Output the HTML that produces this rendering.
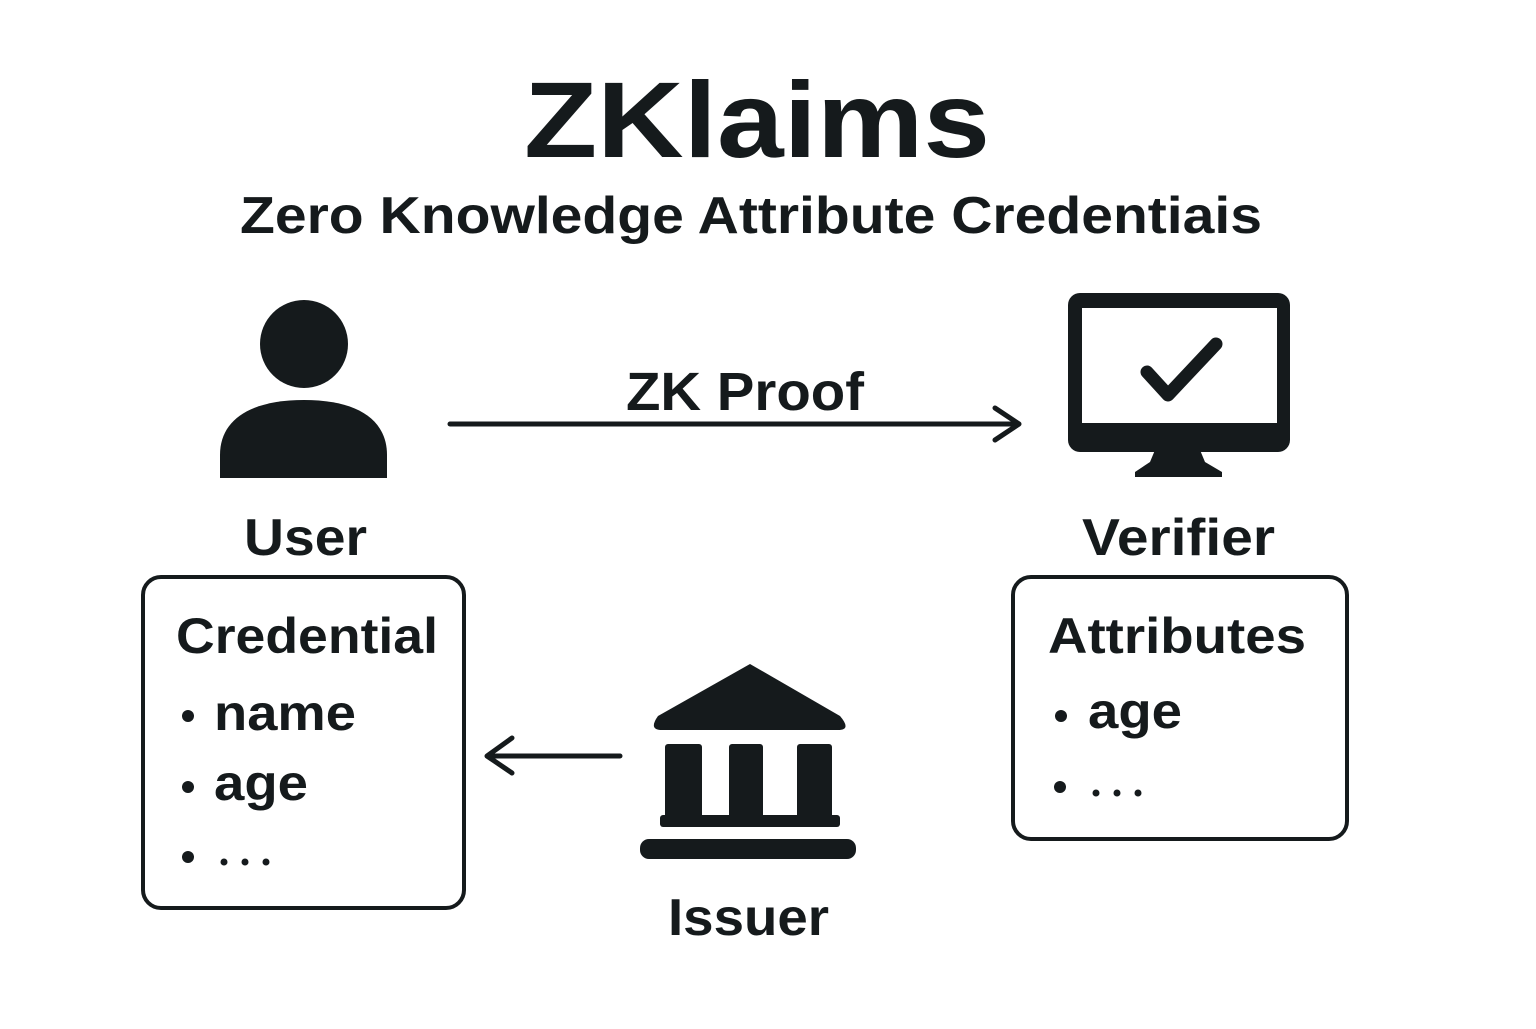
<!DOCTYPE html>
<html><head><style>
body{margin:0;background:#fff}
svg text{font-family:"Liberation Sans",sans-serif;font-weight:bold;fill:#151a1c}
</style></head><body>
<svg width="1536" height="1024" viewBox="0 0 1536 1024" xmlns="http://www.w3.org/2000/svg">
<text x="757" y="157" font-size="108" text-anchor="middle" textLength="466" lengthAdjust="spacingAndGlyphs">ZKlaims</text>
<text x="751" y="233" font-size="52" text-anchor="middle" textLength="1022" lengthAdjust="spacingAndGlyphs">Zero Knowledge Attribute Credentiais</text>
<!-- user -->
<circle cx="304" cy="344" r="44" fill="#151a1c"/>
<path d="M220 478 L220 455 C220 420 250 400 304 400 C358 400 387 420 387 455 L387 478 Z" fill="#151a1c"/>
<text x="244" y="555" font-size="52" textLength="123" lengthAdjust="spacingAndGlyphs">User</text>
<!-- arrow -->
<text x="745" y="410" font-size="54" text-anchor="middle" textLength="238" lengthAdjust="spacingAndGlyphs">ZK Proof</text>
<line x1="450" y1="424" x2="1018" y2="424" stroke="#151a1c" stroke-width="5" stroke-linecap="round"/>
<polyline points="995,408 1019,424 995,440" fill="none" stroke="#151a1c" stroke-width="5" stroke-linecap="round" stroke-linejoin="round"/>
<!-- monitor -->
<rect x="1068" y="293" width="222" height="159" rx="12" fill="#151a1c"/>
<rect x="1082" y="308" width="195" height="115" fill="#fff"/>
<polyline points="1147,372 1168,395 1216,344" fill="none" stroke="#151a1c" stroke-width="13" stroke-linecap="round" stroke-linejoin="round"/>
<path d="M1155 450 L1200 450 L1205 462 L1222 472 L1222 477 L1135 477 L1135 472 L1150 462 Z" fill="#151a1c"/>
<text x="1082" y="555" font-size="52" textLength="193" lengthAdjust="spacingAndGlyphs">Verifier</text>
<!-- credential box -->
<rect x="143" y="577" width="321" height="331" rx="18" fill="none" stroke="#151a1c" stroke-width="4"/>
<text x="176" y="653" font-size="50" textLength="262" lengthAdjust="spacingAndGlyphs">Credential</text>
<circle cx="188" cy="716" r="6" fill="#151a1c"/>
<text x="214" y="730" font-size="50" textLength="142" lengthAdjust="spacingAndGlyphs">name</text>
<circle cx="188" cy="787" r="6" fill="#151a1c"/>
<text x="214" y="800" font-size="50" textLength="94" lengthAdjust="spacingAndGlyphs">age</text>
<circle cx="188" cy="857" r="6" fill="#151a1c"/>
<circle cx="224" cy="862" r="3.5" fill="#151a1c"/><circle cx="245" cy="862" r="3.5" fill="#151a1c"/><circle cx="266" cy="862" r="3.5" fill="#151a1c"/>
<!-- attributes box -->
<rect x="1013" y="577" width="334" height="262" rx="18" fill="none" stroke="#151a1c" stroke-width="4"/>
<text x="1048" y="653" font-size="50" textLength="258" lengthAdjust="spacingAndGlyphs">Attributes</text>
<circle cx="1061" cy="716" r="6" fill="#151a1c"/>
<text x="1088" y="728" font-size="50" textLength="94" lengthAdjust="spacingAndGlyphs">age</text>
<circle cx="1060" cy="787" r="6" fill="#151a1c"/>
<circle cx="1096" cy="793" r="3.5" fill="#151a1c"/><circle cx="1117" cy="793" r="3.5" fill="#151a1c"/><circle cx="1138" cy="793" r="3.5" fill="#151a1c"/>
<!-- issuer arrow -->
<line x1="620" y1="756" x2="488" y2="756" stroke="#151a1c" stroke-width="5" stroke-linecap="round"/>
<polyline points="512,738 487,756 512,773" fill="none" stroke="#151a1c" stroke-width="5" stroke-linecap="round" stroke-linejoin="round"/>
<!-- bank -->
<path d="M750 664 L840 716 Q852 730 838 730 L662 730 Q648 730 658 716 Z" fill="#151a1c"/>
<rect x="665" y="744" width="37" height="83" rx="3" fill="#151a1c"/>
<rect x="729" y="744" width="34" height="83" rx="3" fill="#151a1c"/>
<rect x="797" y="744" width="35" height="83" rx="3" fill="#151a1c"/>
<rect x="660" y="815" width="180" height="12" rx="3" fill="#151a1c"/>
<rect x="640" y="839" width="216" height="20" rx="9" fill="#151a1c"/>
<text x="668" y="935" font-size="52" textLength="161" lengthAdjust="spacingAndGlyphs">Issuer</text>
</svg>
</body></html>
